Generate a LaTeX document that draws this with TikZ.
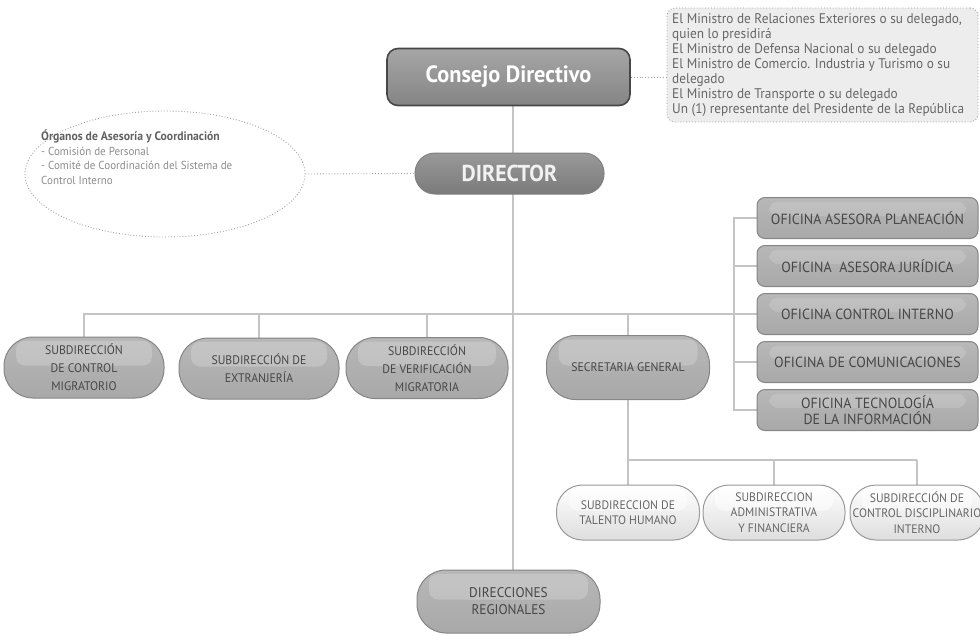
\documentclass[tikz,border=0pt]{standalone}
\usepackage{fontspec}
\setmainfont{PT Sans}[FakeStretch=0.95]
\usetikzlibrary{shapes.geometric,backgrounds,calc}
\definecolor{linec}{HTML}{C4C4C4}
\definecolor{dotc}{HTML}{A0A0A0}
\definecolor{infofill}{HTML}{EDEDED}
\definecolor{infotext}{HTML}{666666}
\definecolor{btntext}{HTML}{474747}
\begin{document}
\begin{tikzpicture}[x=1pt,y=-1pt,
  conn/.style={draw=linec,line width=1.3pt},
  dotconn/.style={draw=dotc,line width=0.9pt,dotted},
  gloss/.style={path picture={
    \fill[white,opacity=#1,rounded corners=9pt]
      ($(path picture bounding box.north west)+(12,4)$) rectangle
      ($(path picture bounding box.east)+(-12,-2)$);}},
  darkbtn/.style={draw=black!72,line width=1.6pt,rounded corners=11pt,
    top color=black!35,middle color=black!58,bottom color=black!48,
    text=white,font=\bfseries\fontsize{23.5}{26}\selectfont,inner sep=0pt},
  dirbtn/.style={draw=black!50,line width=1pt,rounded corners=20pt,
    top color=black!40,middle color=black!55,bottom color=black!52,
    text=white!95!black,font=\bfseries\fontsize{23}{26}\selectfont,inner sep=0pt},
  graybtn/.style={draw=black!48,line width=1pt,
    top color=black!28,middle color=black!38,bottom color=black!34,
    text=btntext,align=center,inner sep=0pt},
  pill/.style={rounded corners=29pt,gloss=0.2},
  ofibtn/.style={graybtn,rounded corners=8pt,minimum width=221pt,minimum height=41pt,
    font=\fontsize{14.7}{16.5}\selectfont,gloss=0.15},
  lightbtn/.style={draw=black!40,line width=1pt,rounded corners=26pt,
    top color=white,middle color=black!7,bottom color=black!13,
    text=black!60,align=center,inner sep=0pt,minimum height=55pt,
    font=\fontsize{12.3}{15.5}\selectfont,gloss=0.5},
  subfont/.style={font=\fontsize{12.4}{18}\selectfont}
]
\useasboundingbox (0,0) rectangle (980,635);

% coordinates used for bus lines
\coordinate (trunk) at (513,0);
\coordinate (hbar) at (0,314);
\coordinate (brk) at (734,0);
\coordinate (sbar) at (0,460);

% top level
\node[darkbtn,minimum width=243pt,minimum height=57pt] (consejo) at (508.5,77) {Consejo Directivo};
\node[draw=dotc,line width=0.9pt,dotted,rounded corners=8pt,fill=infofill,
  minimum width=311pt,minimum height=114pt,inner sep=0pt] (info) at (822.5,65) {};
\node[anchor=north west,text=infotext,align=left,inner sep=0pt,
  font=\fontsize{14}{15}\selectfont] (infotxt) at (672,13)
  {El Ministro de Relaciones Exteriores o su delegado,\\
   quien lo presidirá\\
   El Ministro de Defensa Nacional o su delegado\\
   El Ministro de Comercio. Industria y Turismo o su\\
   delegado\\
   El Ministro de Transporte o su delegado\\
   Un (1) representante del Presidente de la República};

\node[dirbtn,minimum width=189pt,minimum height=41pt] (director) at (509.5,173.5) {DIRECTOR};

\node[ellipse,draw=dotc,line width=0.9pt,dotted,minimum width=280pt,minimum height=126pt,inner sep=0pt] (org) at (165,174) {};
\node[anchor=north west,align=left,inner sep=0pt,text=black!62,
  font=\fontsize{11.6}{14.5}\selectfont] (orgtxt) at (41,130)
  {{\bfseries\fontsize{12.3}{14.5}\selectfont Órganos de Asesoría y Coordinación}\\
   \textcolor{black!45}{- Comisión de Personal}\\
   \textcolor{black!45}{- Comité de Coordinación del Sistema de}\\
   \textcolor{black!45}{Control Interno}};

% second level
\node[graybtn,pill,subfont,minimum width=160pt,minimum height=61pt] (sub1) at (84,367.5)
  {SUBDIRECCIÓN\\DE CONTROL\\MIGRATORIO};
\node[graybtn,pill,subfont,minimum width=160pt,minimum height=61pt] (sub2) at (259,368.5)
  {SUBDIRECCIÓN DE\\EXTRANJERÍA};
\node[graybtn,pill,subfont,minimum width=162pt,minimum height=61pt] (sub3) at (427,368)
  {SUBDIRECCIÓN\\DE VERIFICACIÓN\\MIGRATORIA};
\node[graybtn,pill,subfont,minimum width=163pt,minimum height=64pt] (sec) at (628,367.5)
  {SECRETARIA GENERAL};

% oficinas
\node[ofibtn] (ofi1) at (867.5,218) {OFICINA ASESORA PLANEACIÓN};
\node[ofibtn] (ofi2) at (867.5,266) {OFICINA\ \ ASESORA JURÍDICA};
\node[ofibtn] (ofi3) at (867.5,314) {OFICINA CONTROL INTERNO};
\node[ofibtn] (ofi4) at (867.5,362) {OFICINA DE COMUNICACIONES};
\node[ofibtn,font=\fontsize{14.7}{16}\selectfont] (ofi5) at (867.5,410) {OFICINA TECNOLOGÍA\\DE LA INFORMACIÓN};

% under secretaria
\node[lightbtn,minimum width=143pt] (tal) at (628,512.5) {SUBDIRECCION DE\\TALENTO HUMANO};
\node[lightbtn,minimum width=142pt] (adm) at (774,512.5) {SUBDIRECCION\\ADMINISTRATIVA\\Y FINANCIERA};
\node[lightbtn,minimum width=134pt] (dis) at (917,512.5) {SUBDIRECCIÓN DE\\CONTROL DISCIPLINARIO\\INTERNO};

% regionales
\node[graybtn,pill,font=\fontsize{14}{17}\selectfont,minimum width=183pt,minimum height=63pt] (reg) at (508.5,601.5)
  {DIRECCIONES\\REGIONALES};

% connectors behind the nodes
\begin{scope}[on background layer]
  \draw[conn] (consejo.south -| trunk) -- (reg.north -| trunk);
  \draw[conn] (sub1.north) -- (sub1.north |- hbar) -- (ofi3.west);
  \draw[conn] (sub2.north) -- (sub2.north |- hbar);
  \draw[conn] (sub3.north) -- (sub3.north |- hbar);
  \draw[conn] (sec.north) -- (sec.north |- hbar);
  \draw[conn] (ofi1.west) -- (ofi1.west -| brk) -- (ofi5.west -| brk) -- (ofi5.west);
  \draw[conn] (ofi2.west) -- (ofi2.west -| brk);
  \draw[conn] (ofi4.west) -- (ofi4.west -| brk);
  \draw[conn] (sec.south) -- (sec.south |- sbar);
  \draw[conn] (tal.north |- sbar) -- (dis.north |- sbar);
  \draw[conn] (tal.north) -- (tal.north |- sbar);
  \draw[conn] (adm.north) -- (adm.north |- sbar);
  \draw[conn] (dis.north) -- (dis.north |- sbar);
  \draw[dotconn] (consejo.east) -- (consejo.east -| info.west);
  \draw[dotconn] (org.east) -- (director.west);
\end{scope}
\end{tikzpicture}
\end{document}
